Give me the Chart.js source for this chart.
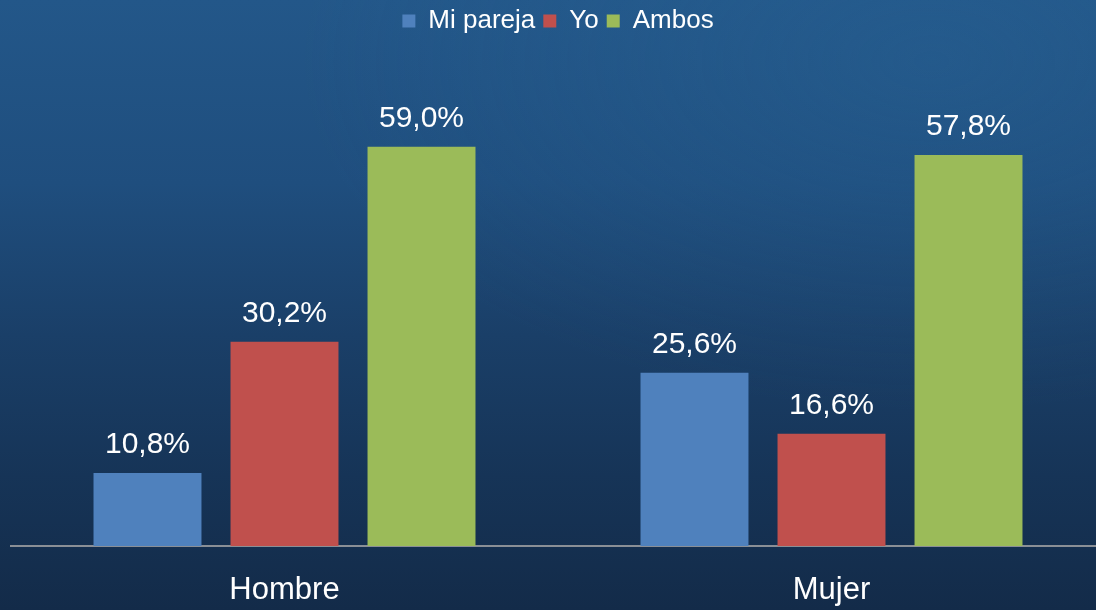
<!DOCTYPE html>
<html>
<head>
<meta charset="utf-8">
<script src="https://cdn.jsdelivr.net/npm/chart.js@4/dist/chart.umd.min.js"></script>
<style>
  html, body { margin: 0; padding: 0; width: 1096px; height: 610px; overflow: hidden; }
  body {
    background:
      radial-gradient(ellipse 900px 500px at 85% 10%, rgba(40,100,150,0.35), rgba(40,100,150,0) 70%),
      linear-gradient(to bottom, #235789 0%, #1f4e7e 30%, #1a3f68 55%, #163457 78%, #132b49 100%);
  }
  #wrap { position: absolute; left: 0; top: 0; width: 1106px; height: 610px; }
</style>
</head>
<body>
<div id="wrap"><canvas id="c" width="1106" height="610"></canvas></div>
<script>
const categories = ["Hombre", "Mujer"];
const seriesNames = ["Mi pareja", "Yo", "Ambos"];
const miPareja = [10.8, 25.6];
const yo = [30.2, 16.6];
const ambos = [59.0, 57.8];
const colors = ["#4f81bd", "#c0504d", "#9bbb59"];

const labelPlugin = {
  id: 'valueLabels',
  afterDatasetsDraw(chart) {
    const ctx = chart.ctx;
    ctx.save();
    ctx.fillStyle = '#ffffff';
    ctx.font = '30px "Liberation Sans", Arial, sans-serif';
    ctx.textAlign = 'center';
    ctx.textBaseline = 'alphabetic';
    chart.data.datasets.forEach((ds, i) => {
      const meta = chart.getDatasetMeta(i);
      meta.data.forEach((bar, j) => {
        const v = ds.data[j];
        const txt = v.toFixed(1).replace('.', ',') + '%';
        ctx.fillText(txt, bar.x, bar.y - 20);
      });
    });
    ctx.restore();
  }
};

new Chart(document.getElementById('c'), {
  type: 'bar',
  data: {
    labels: categories,
    datasets: [
      { label: seriesNames[0], data: miPareja, backgroundColor: colors[0] },
      { label: seriesNames[1], data: yo, backgroundColor: colors[1] },
      { label: seriesNames[2], data: ambos, backgroundColor: colors[2] }
    ]
  },
  options: {
    responsive: false,
    animation: false,
    layout: { padding: { left: 11, right: 1, top: 0, bottom: 0 } },
    datasets: { bar: { categoryPercentage: 0.7514, barPercentage: 0.788 } },
    plugins: {
      tooltip: { enabled: false },
      legend: {
        position: 'top',
        labels: {
          color: '#ffffff',
          font: { family: '"Liberation Sans", Arial, sans-serif', size: 26 },
          boxWidth: 13, boxHeight: 13, padding: 8
        }
      }
    },
    scales: {
      x: {
        grid: { display: false, drawTicks: false },
        border: { display: true, color: '#8a8f96', width: 2 },
        ticks: { color: '#ffffff', font: { family: '"Liberation Sans", Arial, sans-serif', size: 31 }, padding: 26 },
        afterFit: (s) => { s.height = 64; }
      },
      y: {
        display: false,
        min: 0,
        max: 74.2
      }
    }
  },
  plugins: [labelPlugin]
});
</script>
</body>
</html>
